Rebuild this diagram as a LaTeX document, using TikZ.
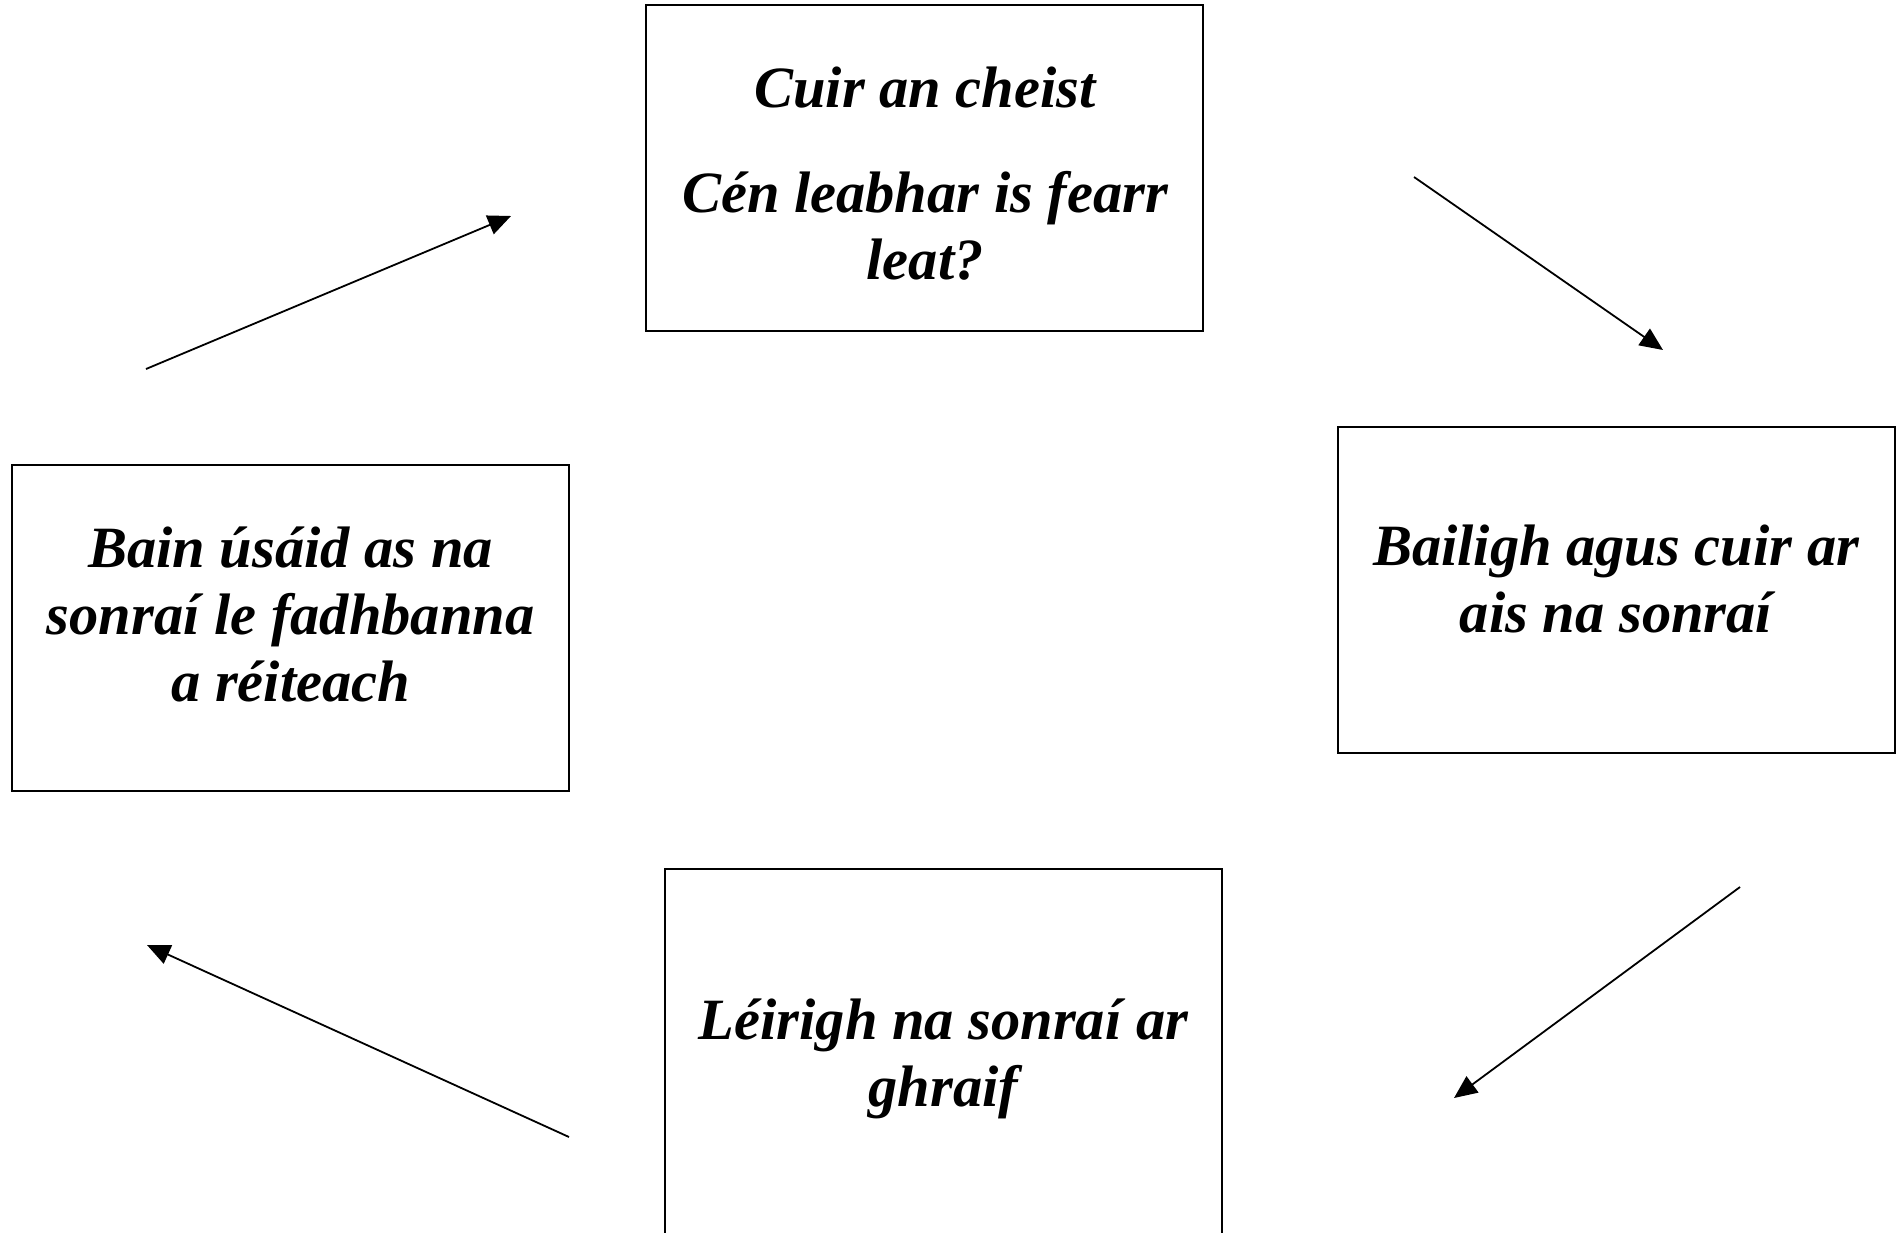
\documentclass[tikz,border=0pt]{standalone}
\usepackage{fontspec}
\setmainfont{Liberation Serif}
\usetikzlibrary{arrows.meta}
\begin{document}
\begin{tikzpicture}[x=1pt,y=-1pt,
  box/.style={draw, line width=2pt, minimum width=557pt, minimum height=326pt, inner sep=0pt},
  txt/.style={anchor=base, inner sep=0pt, font=\fontsize{58.5}{67}\selectfont\bfseries\itshape},
  flow/.style={line width=1.8pt, -{Triangle[length=23pt,width=20pt]}}]
\clip (0,0) rectangle (1903,1232);
\fill[white] (0,0) rectangle (1903,1232);

\node[box] (ask) at (924,167.5) {};
\node[txt] (askt) at (925,107) {\begin{tabular}[t]{@{}c@{}}Cuir an cheist\\[38pt] Cén leabhar is fearr\\ leat?\end{tabular}};

\node[box] (collect) at (1616,590) {};
\node[txt] (collectt) at (1616,565) {\begin{tabular}[t]{@{}c@{}}Bailigh agus cuir ar\\ ais na sonraí\end{tabular}};

\node[box] (use) at (290.7,628) {};
\node[txt] (uset) at (290.7,567) {\begin{tabular}[t]{@{}c@{}}Bain úsáid as na\\ sonraí le fadhbanna\\ a réiteach\end{tabular}};

\node[box, minimum height=400pt] (graph) at (943.5,1069) {};
\node[txt] (grapht) at (943.5,1039) {\begin{tabular}[t]{@{}c@{}}Léirigh na sonraí ar\\ ghraif\end{tabular}};

\coordinate (a1s) at (146,369); \coordinate (a1e) at (511,216);
\coordinate (a2s) at (1414,177); \coordinate (a2e) at (1663,350);
\coordinate (a3s) at (1740,887); \coordinate (a3e) at (1454,1098);
\coordinate (a4s) at (569,1137); \coordinate (a4e) at (147,945);

\draw[flow] (a1s) -- (a1e);
\draw[flow] (a2s) -- (a2e);
\draw[flow] (a3s) -- (a3e);
\draw[flow] (a4s) -- (a4e);
\end{tikzpicture}
\end{document}
